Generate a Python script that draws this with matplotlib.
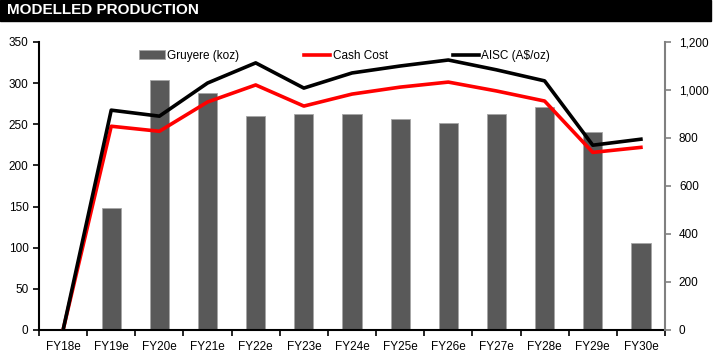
import numpy as np
import matplotlib
matplotlib.use("Agg")
import matplotlib.pyplot as plt
from matplotlib.ticker import FuncFormatter, MultipleLocator, FixedLocator

plt.rcParams['font.family'] = ['Liberation Sans', 'DejaVu Sans']

# Data
years = ['FY18e', 'FY19e', 'FY20e', 'FY21e', 'FY22e', 'FY23e', 'FY24e',
         'FY25e', 'FY26e', 'FY27e', 'FY28e', 'FY29e', 'FY30e']
gruyere_koz = [0, 148, 304, 288, 260, 262, 262, 256, 252, 262, 271, 241, 106]
cash_cost = [0, 849, 828, 950, 1021, 933, 983, 1012, 1033, 996, 954, 740, 761]
aisc = [0, 916, 891, 1029, 1113, 1008, 1071, 1100, 1125, 1084, 1038, 770, 795]

fig = plt.figure(figsize=(7.26, 3.61), dpi=100)

# black title bar
fig.patches.append(plt.Rectangle((0, 1 - 21 / 361), 711 / 726, 21 / 361,
                                 transform=fig.transFigure, color='black', zorder=0))
fig.text(7 / 726, 1 - 10.5 / 361, 'MODELLED PRODUCTION', color='white',
         fontsize=11, fontweight='bold', va='center', ha='left')

ax = fig.add_axes([39 / 726, 31 / 361, (665 - 39) / 726, (330 - 42) / 361])
ax2 = ax.twinx()

x = np.arange(len(years))
ax.bar(x, gruyere_koz, width=0.4, color='#595959', edgecolor='#a6a6a6',
       linewidth=0.6, label='Gruyere (koz)', zorder=2)
ax2.plot(x, cash_cost, color='#ff0000', lw=2.6, label='Cash Cost')
ax2.plot(x, aisc, color='black', lw=2.6, label='AISC (A$/oz)')

ax.set_xlim(-0.5, len(years) - 0.5)
ax.set_ylim(0, 350)
ax2.set_ylim(0, 1200)
ax.yaxis.set_major_locator(MultipleLocator(50))
ax2.yaxis.set_major_locator(MultipleLocator(200))
ax2.yaxis.set_major_formatter(FuncFormatter(lambda v, p: f'{v:,.0f}'))

ax.set_xticks(x)
ax.set_xticklabels(years)
ax.xaxis.set_minor_locator(FixedLocator(np.arange(-0.5, len(years), 1)))
ax.tick_params(axis='x', which='major', length=0, pad=8, labelsize=8.5)
ax.tick_params(axis='x', which='minor', length=4, width=1.2, direction='out')
ax.tick_params(axis='y', length=4, width=1.2, labelsize=8.5, direction='out')
ax2.tick_params(axis='y', length=4, width=1.2, labelsize=8.5, color='#808080',
                direction='out', pad=6)

for a in (ax, ax2):
    a.spines['top'].set_visible(False)
ax.spines['right'].set_visible(False)
ax.spines['left'].set_linewidth(1.5)
ax.spines['bottom'].set_linewidth(1.5)
ax2.spines['left'].set_visible(False)
ax2.spines['bottom'].set_visible(False)
ax2.spines['right'].set_color('#808080')
ax2.spines['right'].set_linewidth(1.5)

ax.set_zorder(ax2.get_zorder() - 1)
ax2.patch.set_visible(False)

h1, l1 = ax.get_legend_handles_labels()
h2, l2 = ax2.get_legend_handles_labels()
ax2.legend(h1 + h2, l1 + l2, loc='upper center', bbox_to_anchor=(0.488, 1.01),
           ncol=3, frameon=False, fontsize=8.5, columnspacing=5.5,
           handlelength=2.2, handletextpad=0.2)

fig.savefig('out.png', dpi=100)
